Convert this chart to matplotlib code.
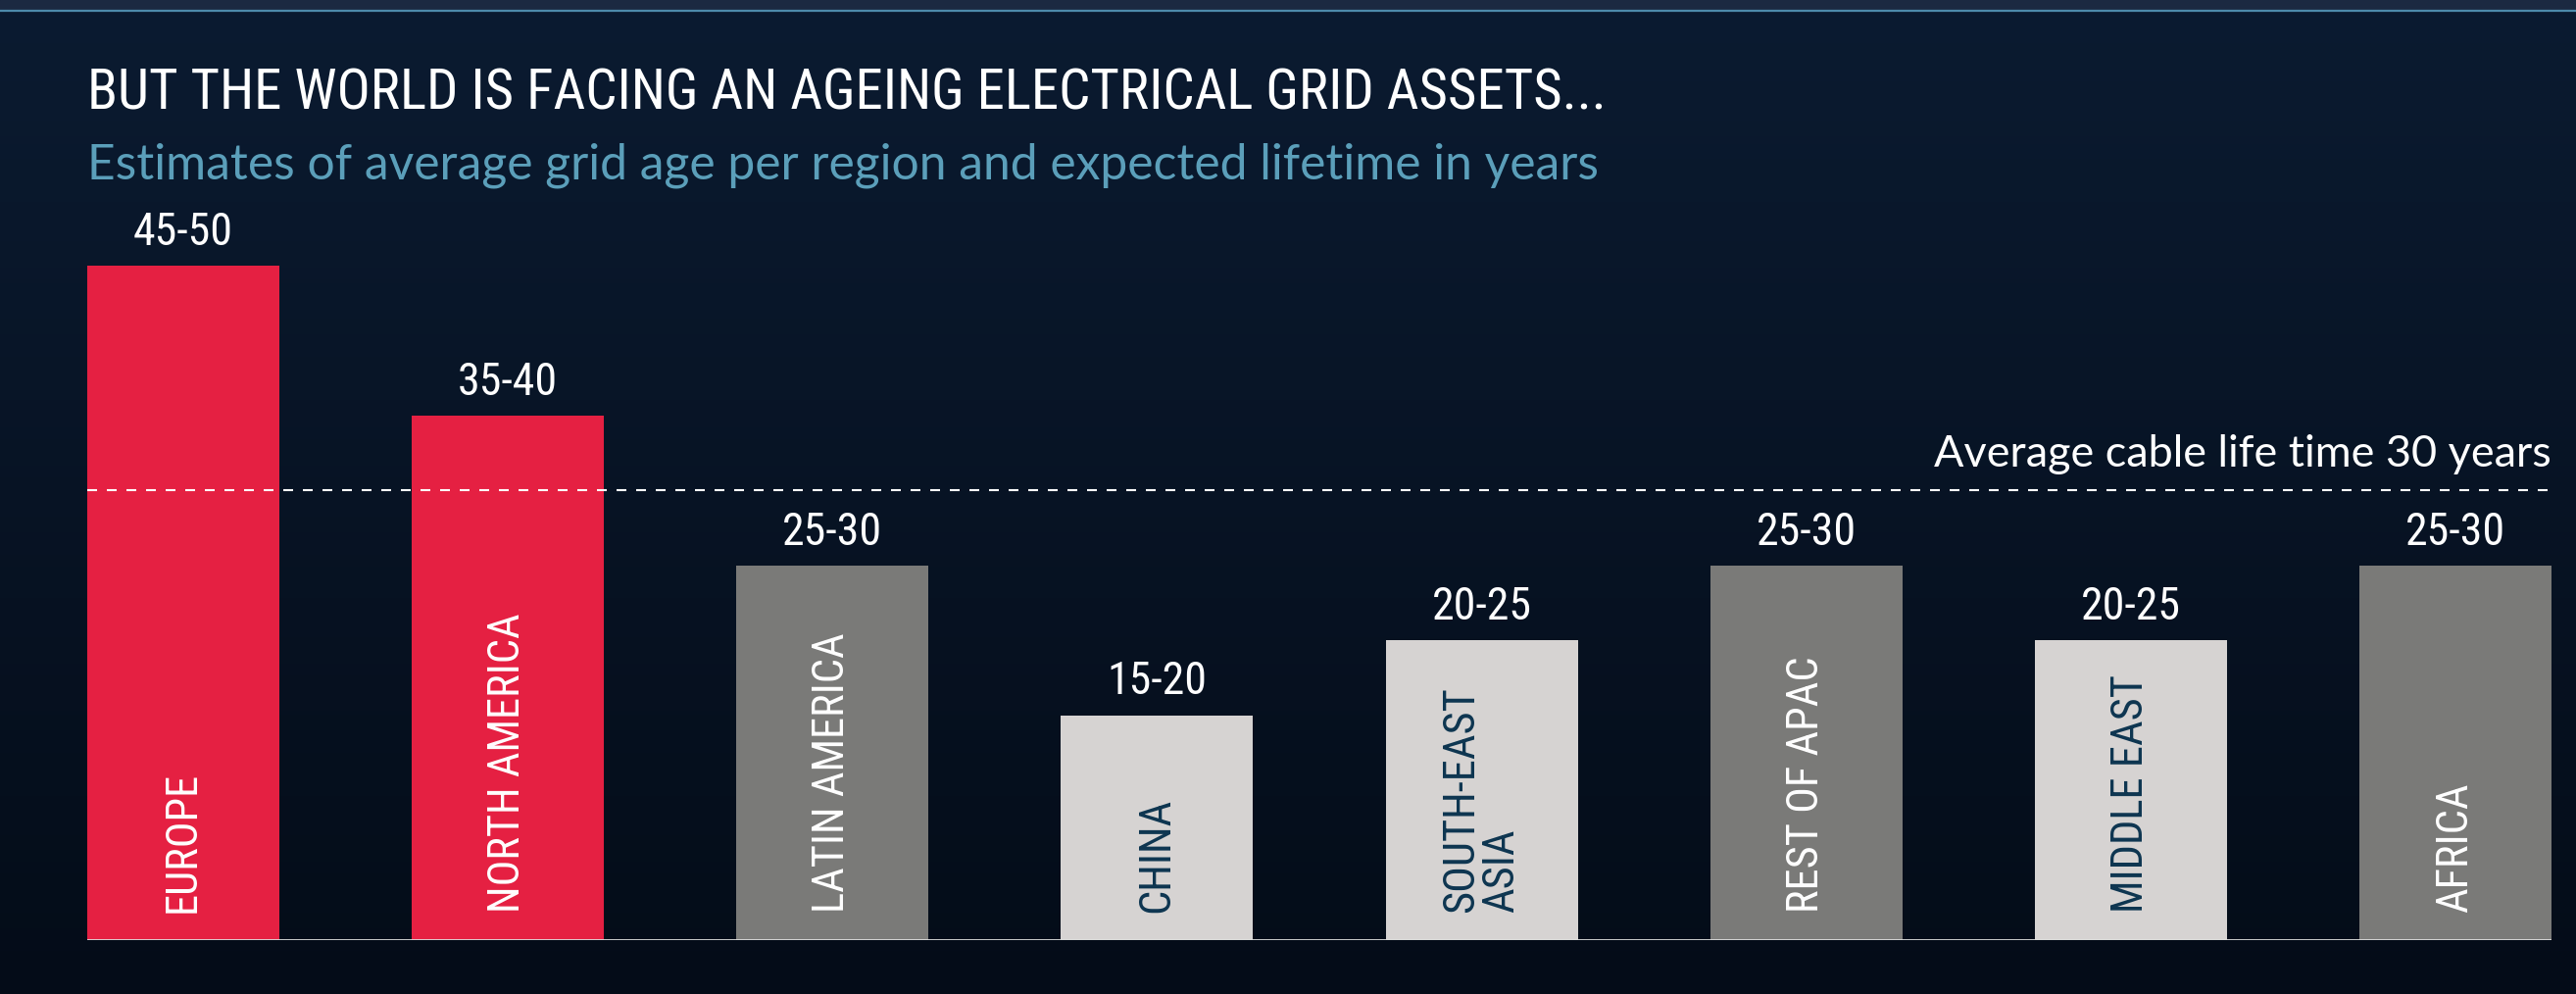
import numpy as np
import matplotlib
matplotlib.use("Agg")
import matplotlib.pyplot as plt
from matplotlib import font_manager

# data
regions = ["EUROPE", "NORTH AMERICA", "LATIN AMERICA", "CHINA",
           "SOUTH-EAST\nASIA", "REST OF APAC", "MIDDLE EAST", "AFRICA"]
age_low = [45, 35, 25, 15, 20, 25, 20, 25]
age_labels = ["45-50", "35-40", "25-30", "15-20", "20-25", "25-30", "20-25", "25-30"]
age_group = ["old", "old", "mid", "young", "young", "mid", "young", "mid"]
cable_life = 30

bar_colors = {"old": "#e52042", "mid": "#7a7a78", "young": "#d6d3d2"}
text_colors = {"old": "white", "mid": "white", "young": "#0d3550"}

available = {f.name for f in font_manager.fontManager.ttflist}


def pick(*names):
    for n in names:
        if n in available:
            return n
    return "DejaVu Sans"


narrow = pick("Liberation Sans Narrow", "Roboto Condensed", "Open Sans Condensed", "Liberation Sans")
regular = pick("Lato", "Open Sans", "Liberation Sans")

W, H = 2628, 1014
fig = plt.figure(figsize=(W / 100, H / 100), dpi=100)

# background gradient
bg = fig.add_axes([0, 0, 1, 1], zorder=-10)
grad = np.linspace(0, 1, 256).reshape(-1, 1)
top = np.array([0x0b, 0x1b, 0x31]) / 255
bottom = np.array([0x04, 0x0c, 0x18]) / 255
img = top[None, None, :] * (1 - grad[..., None]) + bottom[None, None, :] * grad[..., None]
bg.imshow(img, aspect="auto", extent=[0, 1, 0, 1])
bg.axhspan(1 - 10 / H, 1, color="#1b2941")
bg.axhline(1 - 11 / H, color="#4d8aab", lw=1.6)
bg.set_xlim(0, 1)
bg.set_ylim(0, 1)
bg.axis("off")

# main bar chart
ax = fig.add_axes([89 / W, 55 / H, 2514 / W, 765 / H])
ax.set_facecolor("none")
x = np.arange(len(regions))
colors = [bar_colors[g] for g in age_group]
ax.bar(x, age_low, width=0.592, color=colors, zorder=2)
ax.set_xlim(-0.296, len(regions) - 1 + 0.296)
ax.set_ylim(0, 50)
ax.axhline(0, color="#dcdcdc", lw=2, zorder=3)
ax.axhline(cable_life, color="white", lw=1.5, dashes=(4.8, 4.8), zorder=3)
ax.axis("off")

for i in range(len(regions)):
    ax.annotate(age_labels[i], (x[i], age_low[i]), xytext=(0, 12), textcoords="offset pixels",
                ha="center", va="bottom", color="white", fontsize=33, family=narrow)
    ax.annotate(regions[i], (x[i], 0), xytext=(0, 28), textcoords="offset pixels",
                rotation=90, rotation_mode="anchor", ha="left", va="center",
                multialignment="left", color=text_colors[age_group[i]],
                fontsize=32, family=narrow, linespacing=0.95)

note = ax.annotate("Average cable life time 30 years", (1, cable_life), xycoords=("axes fraction", "data"),
                   xytext=(0, 16), textcoords="offset pixels", ha="right", va="bottom",
                   color="white", fontsize=27, family=regular)

title = fig.text(89 / W, 1 - 112 / H, "BUT THE WORLD IS FACING AN AGEING ELECTRICAL GRID ASSETS...",
                 color="white", fontsize=36, family=narrow, va="baseline")
subtitle = fig.text(89 / W, 1 - 183 / H, "Estimates of average grid age per region and expected lifetime in years",
                    color="#5b9fba", fontsize=30, family=regular, va="baseline")

# scale the header texts to the widths seen in the reference
fig.canvas.draw()
renderer = fig.canvas.get_renderer()
for t, target in [(title, 1550), (subtitle, 1540), (note, 632)]:
    w = t.get_window_extent(renderer).width
    t.set_fontsize(t.get_fontsize() * target / w)

fig.savefig("out.png", dpi=100)
